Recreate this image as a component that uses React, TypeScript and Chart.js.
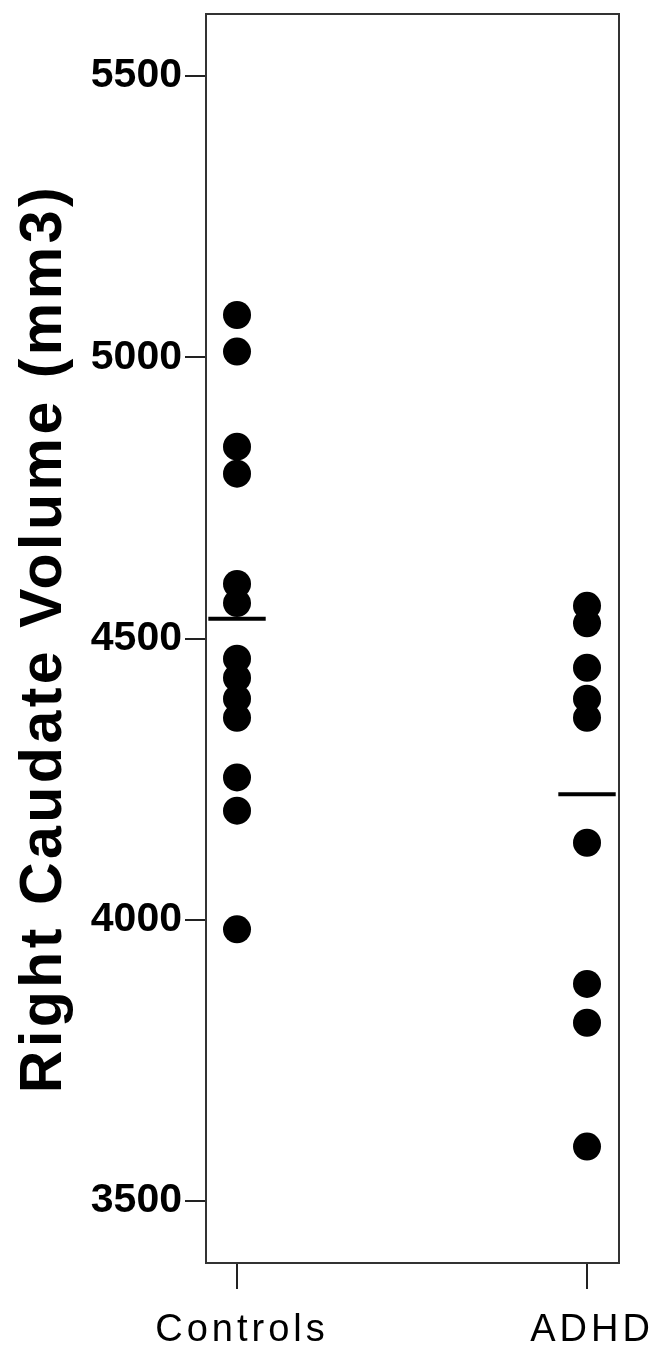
import React, { useEffect, useRef } from 'react';
import { Chart, registerables } from 'chart.js';

Chart.register(...registerables);

// ---- data ----
const categories = ['Controls', 'ADHD'];
const controlsValues = [5075, 5010, 4841, 4793, 4597, 4563, 4464, 4430, 4393, 4359, 4253, 4194, 3983];
const adhdValues = [4558, 4527, 4448, 4393, 4359, 4137, 3886, 3817, 3597];
const groupMeans = [4535, 4223];
const yTickValues = [3500, 4000, 4500, 5000, 5500];
const yTitle = 'Right Caudate Volume (mm3)';

const FONT = '"Liberation Sans", Arial, Helvetica, sans-serif';
const MEAN_HALF = 0.082;

const letterSpacingPlugin = {
  id: 'letterSpacingPatch',
  beforeDraw(chart: any) {
    const xs = chart.scales.x;
    const ys = chart.scales.y;
    if (xs && !xs.__lsPatched) {
      const orig = xs.drawLabels;
      xs.drawLabels = function (area: any) {
        const ctx = this.ctx;
        ctx.save();
        ctx.letterSpacing = '4px';
        orig.call(this, area);
        ctx.restore();
      };
      xs.__lsPatched = true;
    }
    if (ys && !ys.__lsPatched) {
      const origT = ys.drawTitle;
      ys.drawTitle = function () {
        const ctx = this.ctx;
        ctx.save();
        ctx.letterSpacing = '3.5px';
        origT.call(this);
        ctx.restore();
      };
      ys.__lsPatched = true;
    }
  },
};

export default function App() {
  const ref = useRef<HTMLCanvasElement | null>(null);

  useEffect(() => {
    if (!ref.current) return;
    const seriesValues = [controlsValues, adhdValues];
    const pointSets = seriesValues.map((vals, i) => ({
      type: 'scatter' as const,
      label: categories[i],
      data: vals.map((v) => ({ x: i, y: v })),
      pointRadius: 14,
      pointHoverRadius: 14,
      backgroundColor: '#000',
      borderColor: '#000',
      borderWidth: 0,
      showLine: false,
    }));
    const meanSets = groupMeans.map((m, i) => ({
      type: 'line' as const,
      label: categories[i] + ' mean',
      data: [
        { x: i - MEAN_HALF, y: m },
        { x: i + MEAN_HALF, y: m },
      ],
      borderColor: '#000',
      borderWidth: 4,
      pointRadius: 0,
      showLine: true,
      fill: false,
    }));

    const chart = new Chart(ref.current, {
      type: 'scatter',
      data: { datasets: [...pointSets, ...meanSets] as any },
      options: {
        animation: false,
        responsive: false,
        devicePixelRatio: 1,
        layout: { padding: { top: 11, right: 31, left: 0, bottom: 0 } },
        plugins: {
          legend: { display: false },
          tooltip: { enabled: false },
          title: { display: false },
        },
        scales: {
          x: {
            type: 'linear',
            position: 'bottom',
            min: -0.0886,
            max: 1.0914,
            afterBuildTicks: (s: any) => {
              s.ticks = categories.map((_, i) => ({ value: i }));
            },
            afterFit: (s: any) => {
              s.height = 94;
              s.paddingLeft = 0;
              s.paddingRight = 0;
            },
            ticks: {
              callback: (v: any) => categories[v as number] ?? '',
              font: { family: FONT, size: 38 },
              color: '#000',
              padding: 19,
              labelOffset: 5,
              maxRotation: 0,
              autoSkip: false,
            },
            grid: {
              drawOnChartArea: false,
              drawTicks: true,
              tickLength: 26,
              color: '#222',
              lineWidth: 2,
            },
            border: { display: true, color: '#333', width: 2 },
          },
          y: {
            type: 'linear',
            position: 'left',
            min: 3390,
            max: 5610,
            afterBuildTicks: (s: any) => {
              s.ticks = yTickValues.map((v) => ({ value: v }));
            },
            afterFit: (s: any) => {
              s.width = 206;
              s.paddingTop = 0;
              s.paddingBottom = 0;
            },
            ticks: {
              callback: (v: any) => String(v),
              font: { family: FONT, size: 41, weight: 'bold' },
              color: '#000',
              padding: 3,
            },
            grid: {
              drawOnChartArea: false,
              drawTicks: true,
              tickLength: 21,
              color: '#222',
              lineWidth: 2,
            },
            border: { display: true, color: '#333', width: 2 },
            title: {
              display: true,
              text: yTitle,
              font: { family: FONT, size: 59, weight: 'bold' },
              color: '#000',
              padding: { top: 9, bottom: 0 },
            },
          },
          x2: {
            type: 'linear',
            position: 'top',
            display: true,
            grid: { display: false, drawTicks: false },
            ticks: { display: false },
            border: { display: true, color: '#333', width: 2 },
            afterFit: (s: any) => {
              s.height = 0;
              s.paddingLeft = 0;
              s.paddingRight = 0;
            },
          },
          y2: {
            type: 'linear',
            position: 'right',
            display: true,
            grid: { display: false, drawTicks: false },
            ticks: { display: false },
            border: { display: true, color: '#333', width: 2 },
            afterFit: (s: any) => {
              s.width = 0;
              s.paddingTop = 0;
              s.paddingBottom = 0;
            },
          },
        },
      } as any,
      plugins: [letterSpacingPlugin as any],
    });

    return () => {
      chart.destroy();
    };
  }, []);

  return (
    <div
      style={{
        position: 'absolute',
        left: 0,
        top: 0,
        width: 650,
        height: 1357,
        background: '#fff',
      }}
    >
      <canvas ref={ref} width={650} height={1357} style={{ display: 'block', width: 650, height: 1357 }} />
    </div>
  );
}
